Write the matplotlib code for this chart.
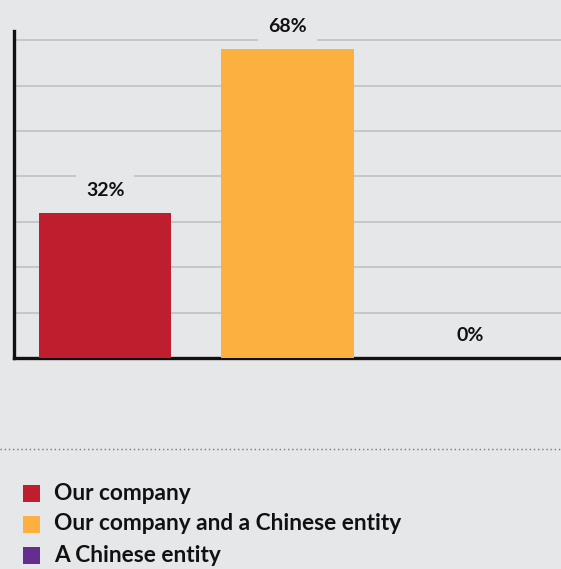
import matplotlib
matplotlib.use("Agg")
import matplotlib.pyplot as plt
from matplotlib.patches import Rectangle
from matplotlib.lines import Line2D

categories = ["Our company", "Our company and a Chinese entity", "A Chinese entity"]
values = [32, 68, 0]
colors = ["#BE1E2D", "#FBB040", "#662D91"]
grid_ticks = [10, 20, 30, 40, 50, 60, 70]

bg = "#E6E7E9"
plt.rcParams["font.family"] = ["Lato", "DejaVu Sans"]

fig = plt.figure(figsize=(5.61, 5.69), dpi=100, facecolor=bg)
ax = fig.add_axes([0.025, 0.3708, 0.975, 0.5747])
ax.set_facecolor(bg)

x = list(range(len(categories)))
ax.bar(x, values, width=0.725, color=colors, zorder=3)

for xi, v in zip(x, values):
    ax.text(xi, v + 4.9, f"{v}%", ha="center", va="center", fontsize=14,
            fontweight="bold", color="#111111", zorder=4,
            bbox=dict(boxstyle="square,pad=0.5", facecolor=bg, edgecolor="none"))

ax.set_xlim(-0.5, 2.5)
ax.set_ylim(0, 72)
ax.set_yticks(grid_ticks)
ax.yaxis.grid(True, color="#BDBEC0", linewidth=1.1, zorder=0)
ax.set_axisbelow(True)
ax.tick_params(left=False, bottom=False, labelleft=False, labelbottom=False)
for side in ["top", "right"]:
    ax.spines[side].set_visible(False)
for side in ["left", "bottom"]:
    ax.spines[side].set_color("#111111")
    ax.spines[side].set_linewidth(2.4)

# dotted separator
fig.add_artist(Line2D([0, 1], [1 - 449 / 569, 1 - 449 / 569], transform=fig.transFigure,
                      color="#777777", linewidth=1.0, linestyle=(0, (1, 2))))

# legend
legend_y = [493, 524, 555]
for lbl, c, yp in zip(categories, colors, legend_y):
    yf = 1 - yp / 569
    fig.add_artist(Rectangle((23 / 561, yf - 8.5 / 569), 17 / 561, 17 / 569,
                             transform=fig.transFigure, facecolor=c, edgecolor="none"))
    fig.text(54 / 561, yf, lbl, ha="left", va="center", fontsize=16.3,
             fontweight="bold", color="#111111")

fig.savefig("out.png", dpi=100, facecolor=bg)
